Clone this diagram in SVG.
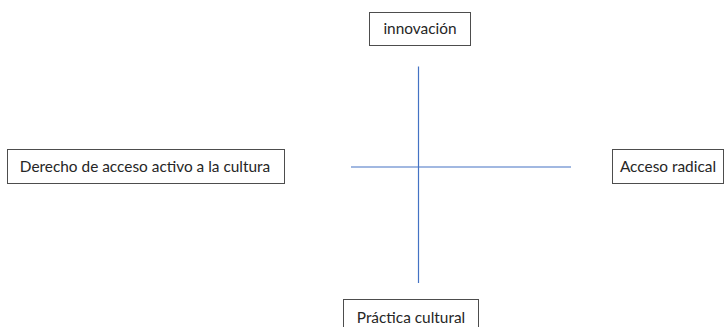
<svg xmlns="http://www.w3.org/2000/svg" width="727" height="327" viewBox="0 0 727 327">
<style>
.box{fill:#fff;stroke:#4d4d4d;stroke-width:1}
.lbl{font-family:Lato,"Open Sans",sans-serif;font-size:15.4px;fill:#262626;text-anchor:middle}
.ln{stroke:#4472c4;stroke-width:1.2}
</style>
<rect width="727" height="327" fill="#fff"/>
<g id="connectors">
<line class="ln" x1="418.5" y1="66.5" x2="418.5" y2="283"/>
<line class="ln" x1="351" y1="167" x2="571" y2="167"/>
</g>
<g id="innovacion">
<rect class="box" x="369.5" y="12.5" width="101" height="33"/>
<text class="lbl" x="420" y="34">innovación</text>
</g>
<g id="derecho">
<rect class="box" x="7.5" y="149.5" width="277" height="34"/>
<text class="lbl" x="145" y="171.5">Derecho de acceso activo a la cultura</text>
</g>
<g id="acceso">
<rect class="box" x="612.5" y="149.5" width="111" height="34"/>
<text class="lbl" x="668" y="171.5">Acceso radical</text>
</g>
<g id="practica">
<rect class="box" x="343.5" y="299.5" width="135" height="34"/>
<text class="lbl" x="411" y="323">Práctica cultural</text>
</g>
</svg>
